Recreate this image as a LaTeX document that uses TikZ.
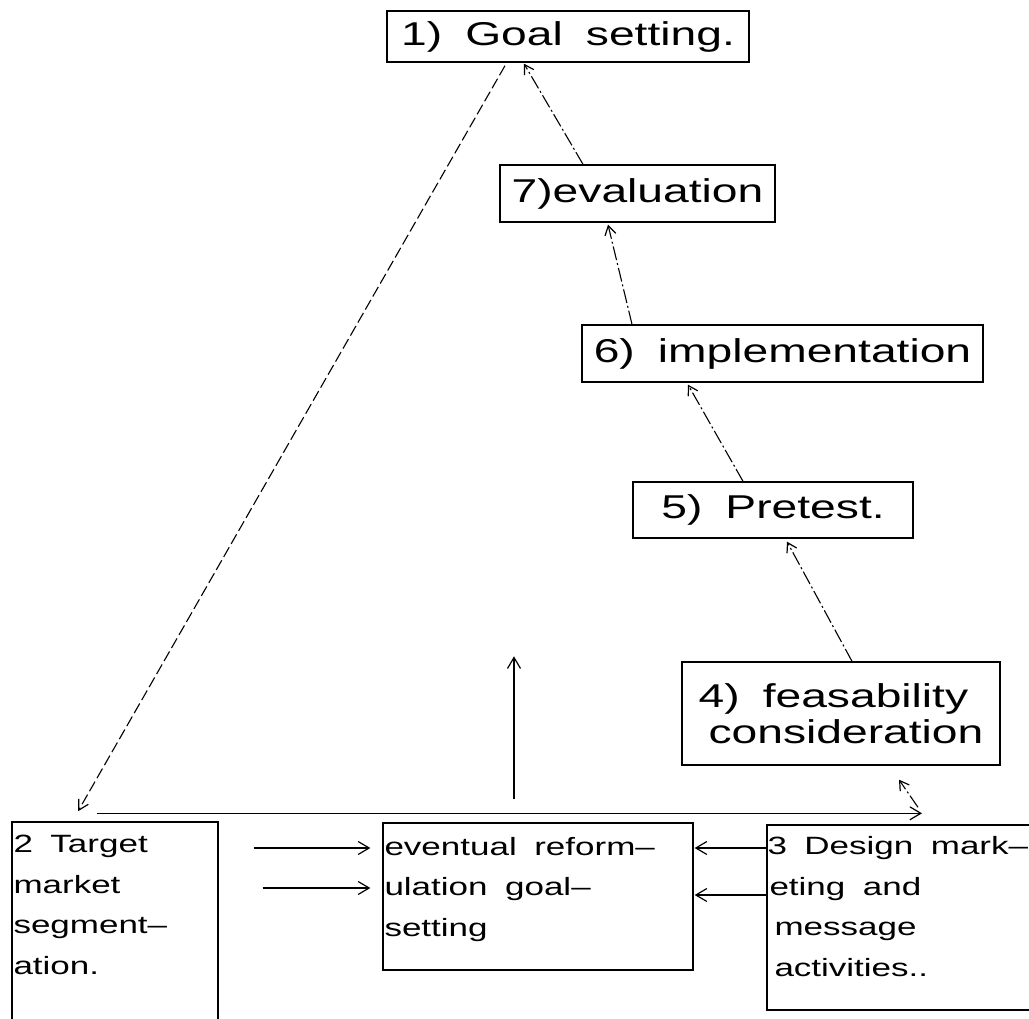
\documentclass[tikz,border=0pt]{standalone}
\usepackage{fontspec}
\setmainfont{Liberation Sans}[FakeStretch=1.4, WordSpace=1.8]
\usetikzlibrary{arrows.meta}
\begin{document}
\begin{tikzpicture}[x=1pt,y=-1pt,
  box/.style={draw, line width=1.4pt, inner sep=0pt, font=\fontsize{33}{40}\selectfont},
  lowbox/.style={draw, line width=1.4pt, inner sep=0pt},
  lowtext/.style={anchor=base west, inner sep=0pt, align=left,
    font=\fontsize{25}{40.5}\selectfont},
  tip/.style={-{Straight Barb[length=11pt,width=13pt,line width=1.2pt]}},
  chain/.style={line width=1.1pt, dash pattern=on 14pt off 3pt on 2pt off 3pt,
    -{Straight Barb[length=9pt,width=11pt,line width=1.2pt]}},
  longdash/.style={line width=1.1pt, dash pattern=on 11pt off 4pt,
    -{Straight Barb[length=10pt,width=11pt,line width=1.2pt]}},
  solid arrow/.style={line width=1.3pt, tip}
]
\useasboundingbox (0,0) rectangle (1029,1019);
\clip (0,0) rectangle (1029,1019);

% upper chain of steps
\node[box, minimum width=362pt, minimum height=51pt] (n1) at (568,36.5) {1)\ Goal setting.};
\node[box, minimum width=275pt, minimum height=57pt] (n7) at (637.5,193.5) {7)evaluation};
\node[box, minimum width=401pt, minimum height=57pt] (n6) at (782.5,353.5) {6)\ implementation};
\node[box, minimum width=280pt, minimum height=56pt] (n5) at (773,510) {5)\ Pretest.};
\node[box, minimum width=318pt, minimum height=103pt, align=left] (n4) at (841,713.5)
  {4)\ feasability\\[-4pt]\hspace*{10pt}consideration};

% lower row of boxes
\node[lowbox, minimum width=206pt, minimum height=218pt] (n2) at (115,931) {};
\node[lowbox, minimum width=310pt, minimum height=147pt] (ne) at (538,896.5) {};
\node[lowbox, minimum width=273pt, minimum height=185pt] (n3) at (903.5,917.5) {};

% box texts, placed by the baseline of their last line
\node[lowtext] (t2) at ([xshift=2pt,yshift=-153pt]n2.north west)
  {2\ Target\\market\\segment–\\ation.};
\node[lowtext] (te) at ([xshift=2pt,yshift=-114pt]ne.north west)
  {eventual\ reform–\\ulation\ goal–\\setting};
\node[lowtext] (t3) at ([xshift=1pt,yshift=-152pt]n3.north west)
  {3\ Design\ mark–\\\hspace*{2pt}eting\ and\\\hspace*{7pt}message\\\hspace*{7pt}activities..};

% dash-dotted feedback chain upwards
\draw[chain] ([xshift=14.5pt,yshift=17pt]n3.north) -- ([xshift=58pt,yshift=-14pt]n4.south);
\draw[chain] ([xshift=11pt]n4.north) -- ([xshift=14pt,yshift=-3pt]n5.south);
\draw[chain] ([xshift=-30pt]n5.north) -- ([xshift=-94.5pt,yshift=-2pt]n6.south);
\draw[chain] ([xshift=-150.5pt]n6.north) -- ([xshift=-29.5pt,yshift=-2pt]n7.south);
\draw[chain] ([xshift=-54.5pt]n7.north) -- ([xshift=-44pt,yshift=-1pt]n1.south);

% goal setting down to target segmentation
\draw[longdash] ([xshift=-63pt,yshift=-3pt]n1.south) -- ([xshift=-37pt,yshift=10pt]n2.north);

% long top line across the lower row
\draw[solid arrow] ([xshift=-18pt,yshift=8pt]n2.north) -- ([xshift=18.5pt,yshift=11pt]n3.north);
\coordinate (up) at ([xshift=-24pt,yshift=166pt]ne.north);
\draw[solid arrow] ([xshift=-24pt,yshift=23pt]ne.north) -- (up);

% arrows into the reformulation box
\draw[solid arrow] ([xshift=35pt,yshift=83pt]n2.east) -- ([xshift=-12pt,yshift=48.5pt]ne.west);
\draw[solid arrow] ([xshift=44pt,yshift=43pt]n2.east) -- ([xshift=-12pt,yshift=8.5pt]ne.west);
\draw[solid arrow] ([yshift=69.5pt]n3.west) -- ([xshift=1pt,yshift=48.5pt]ne.east);
\draw[solid arrow] ([yshift=22.5pt]n3.west) -- ([xshift=1pt,yshift=1.5pt]ne.east);
\end{tikzpicture}
\end{document}
